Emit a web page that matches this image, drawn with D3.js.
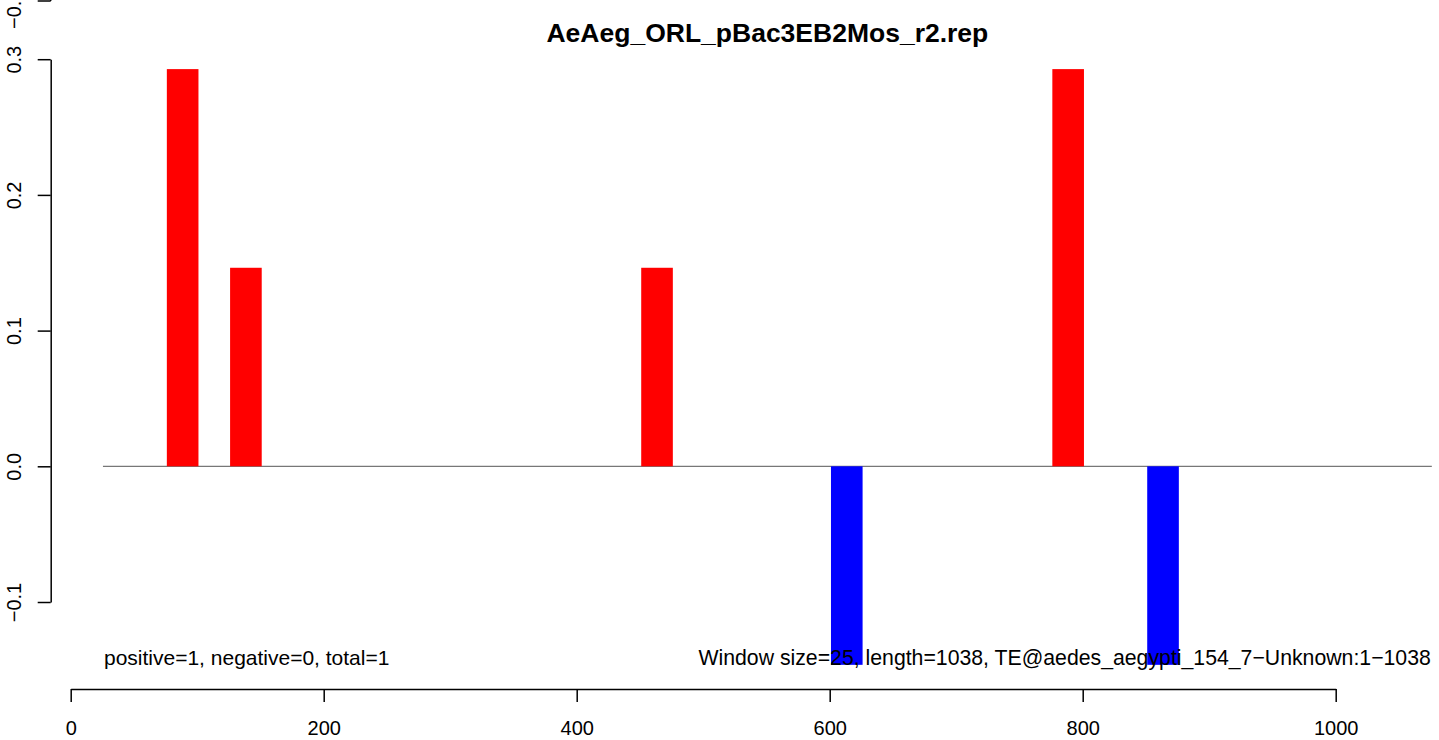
<!DOCTYPE html>
<html>
<head>
<meta charset="utf-8">
<script src="https://cdn.jsdelivr.net/npm/d3@7"></script>
<style>
  html, body { margin: 0; padding: 0; background: #fff; }
  svg { display: block; font-family: "Liberation Sans", Arial, Helvetica, sans-serif; }
</style>
</head>
<body>
<svg id="chart" width="1439" height="740"></svg>
<script>
// ---- data ----
const chartTitle = "AeAeg_ORL_pBac3EB2Mos_r2.rep";
const windowSize = 25;
const windowStarts = [76, 126, 451, 601, 776, 851];
const windowValues = [0.2927, 0.1463, 0.1463, -0.1463, 0.2927, -0.1463];
const xTicks = [0, 200, 400, 600, 800, 1000];
const yTicks = [-0.1, 0.0, 0.1, 0.2, 0.3];
const topFragmentLabel = "\u22120.1";
const leftNote = "positive=1, negative=0, total=1";
const rightNote = "Window size=25, length=1038, TE@aedes_aegypti_154_7\u2212Unknown:1\u22121038";
const plotExtent = [25.5, 1076];   // x-range of the plot region (data units)

// ---- scales ----
const svg = d3.select("#chart");
const x = d3.scaleLinear().domain([0, 1000]).range([70.7, 1335.7]);
const y = d3.scaleLinear().domain([-0.1, 0.3]).range([602, 59.2]);
const axisX = 50.7;
const axisY = 689;

// ---- title ----
svg.append("text")
  .attr("x", (x(plotExtent[0]) + x(plotExtent[1])) / 2)
  .attr("y", 42)
  .attr("text-anchor", "middle")
  .attr("font-weight", "bold")
  .attr("font-size", 26.5)
  .text(chartTitle);

// ---- zero line ----
svg.append("line")
  .attr("x1", x(plotExtent[0])).attr("x2", x(plotExtent[1]))
  .attr("y1", y(0)).attr("y2", y(0))
  .attr("stroke", "#555").attr("stroke-width", 1);

// ---- bars ----
svg.append("g").selectAll("rect")
  .data(windowStarts.map((s, i) => ({ s, v: windowValues[i] })))
  .join("rect")
  .attr("x", d => x(d.s))
  .attr("width", d => x(d.s + windowSize) - x(d.s))
  .attr("y", d => y(Math.max(0, d.v)))
  .attr("height", d => Math.abs(y(d.v) - y(0)))
  .attr("fill", d => d.v >= 0 ? "#ff0000" : "#0000ff");

// ---- y axis ----
const gy = svg.append("g")
  .attr("transform", `translate(${axisX},0)`)
  .call(d3.axisLeft(y).tickValues(yTicks).tickSize(13).tickSizeOuter(0).tickFormat(d3.format(".1f")));
gy.selectAll("path, line").attr("stroke", "#000").attr("stroke-width", 1.5);
gy.selectAll("text")
  .attr("transform", "rotate(-90)")
  .attr("x", 0).attr("y", -(axisX - 21)).attr("dy", 0)
  .attr("text-anchor", "middle")
  .attr("fill", "#000");
gy.attr("font-family", null).attr("font-size", 20);

// ---- cut-off axis fragment at the top ----
const frag = svg.append("g").attr("transform", `translate(${axisX},1)`);
frag.append("line").attr("x1", -13).attr("x2", 0).attr("y1", 0).attr("y2", 0)
  .attr("stroke", "#000").attr("stroke-width", 1.5);
frag.append("line").attr("x1", 0).attr("x2", 0).attr("y1", -2).attr("y2", 0)
  .attr("stroke", "#000").attr("stroke-width", 1.5);
frag.append("text")
  .attr("transform", "rotate(-90)")
  .attr("x", -28).attr("y", -(axisX - 21))
  .attr("text-anchor", "start")
  .attr("font-size", 20)
  .text(topFragmentLabel);

// ---- x axis ----
const gx = svg.append("g")
  .attr("transform", `translate(0,${axisY})`)
  .call(d3.axisBottom(x).tickValues(xTicks).tickSize(13).tickSizeOuter(0).tickFormat(d3.format("d")));
gx.selectAll("path, line").attr("stroke", "#000").attr("stroke-width", 1.5);
gx.selectAll("text").attr("y", 46).attr("dy", 0).attr("fill", "#000");
gx.attr("font-family", null).attr("font-size", 20);

// ---- notes ----
svg.append("text")
  .attr("x", x(plotExtent[0]) + 1).attr("y", 665)
  .attr("font-size", 21)
  .text(leftNote);
svg.append("text")
  .attr("x", x(plotExtent[1]) - 1).attr("y", 665)
  .attr("text-anchor", "end")
  .attr("font-size", 21.25)
  .text(rightNote);
</script>
</body>
</html>
